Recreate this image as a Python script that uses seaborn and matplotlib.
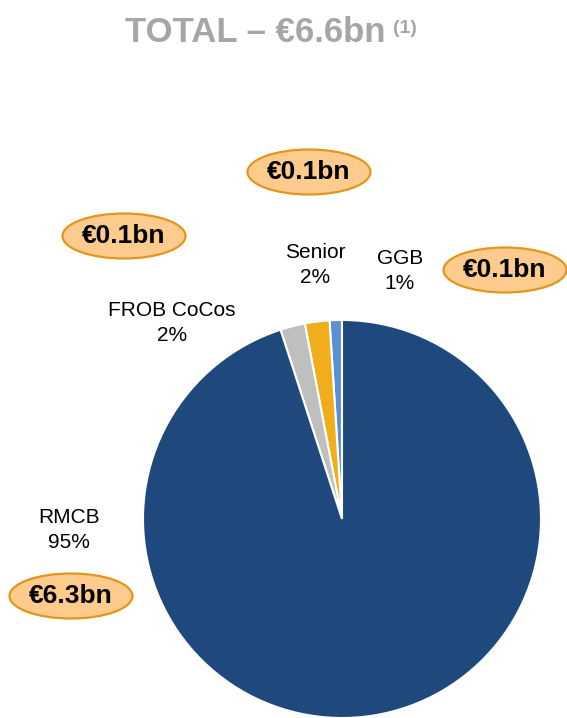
import matplotlib
matplotlib.use("Agg")
import matplotlib.pyplot as plt
from matplotlib.patches import Ellipse
import seaborn as sns

# Funding composition (% of total), drawn counter-clockwise from 12 o'clock
categories = ["GGB", "Senior", "FROB CoCos", "RMCB"]
shares = [1, 2, 2, 95]
amounts = ["€0.1bn", "€0.1bn", "€0.1bn", "€6.3bn"]
title_text = "TOTAL – €6.6bn"
title_note = "(1)"

sns.set_theme(style="white")
plt.rcParams["font.family"] = ["Liberation Sans", "DejaVu Sans"]

colors = ["#5A8FD6", "#F1AE1C", "#BFBFBF", "#1F497D"]

W, H = 567, 718
fig = plt.figure(figsize=(W / 100, H / 100), dpi=100)
ax = fig.add_axes([0, 0, 1, 1])

ax.pie(shares, colors=colors, startangle=90, counterclock=True,
       center=(342, H - 519), radius=199,
       wedgeprops=dict(edgecolor="white", linewidth=1.5))
ax.set_xlim(0, W)
ax.set_ylim(0, H)
ax.set_aspect("equal")
ax.axis("off")

# Title with superscript note
ax.text(125, H - 42, title_text, ha="left", va="baseline",
        fontsize=25, fontweight="bold", color="#A6A6A6")
ax.text(393, H - 33, title_note, ha="left", va="baseline",
        fontsize=14, fontweight="bold", color="#A6A6A6")

# Category labels
label_pos = {"GGB": (400, 271), "Senior": (315, 265),
             "FROB CoCos": (172, 323), "RMCB": (69, 530)}
for cat, share in zip(categories, shares):
    x, y = label_pos[cat]
    ax.text(x, H - y, f"{cat}\n{share}%", ha="center", va="center",
            fontsize=15, color="black", linespacing=1.35)

# Amount callouts
callout_pos = {"GGB": (505, 270), "Senior": (309, 172),
               "FROB CoCos": (124, 236), "RMCB": (71, 596)}
for cat, amt in zip(categories, amounts):
    x, y = callout_pos[cat]
    ax.add_patch(Ellipse((x, H - y), 123, 45, facecolor="#FDCB8E",
                         edgecolor="#E3951C", linewidth=1.6, zorder=3))
    ax.text(x, H - y, amt, ha="center", va="center", fontsize=19,
            fontweight="bold", color="black", zorder=4)

fig.savefig("out.png", dpi=100)
